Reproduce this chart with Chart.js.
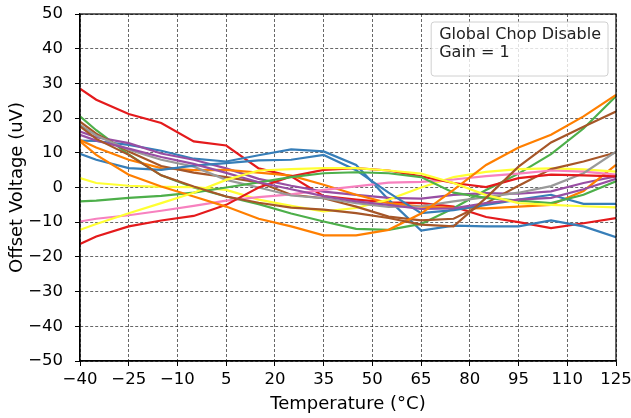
<!DOCTYPE html>
<html lang="en">
<head>
<meta charset="UTF-8">
<title>Offset Voltage vs Temperature</title>
<script src="https://cdn.jsdelivr.net/npm/chart.js"></script>
<style>
    body {
        margin: 0;
        background: #fff;
    }
    .wrap {
        width: 631px;
        height: 418px;
    }
</style>
</head>
<body>
<div class="wrap"><canvas id="grafico"></canvas></div>
<script>
    // temperatures (°C) where each unit was measured
    const temps = [-40, -35, -25, -15, -5, 5, 15, 25, 35, 45, 55, 65, 75, 85, 95, 105, 115, 125];

    // offset voltage (uV), one array per unit
    const redA    = [28.5, 25.3, 21.2, 18.6, 13.3, 12.1, 5.5, 3.2, -2.5, -3.5, -4.3, -4.5, -5.5, -8.5, -10, -11.7, -10.3, -8.8];
    const blueA   = [13.5, 13.4, 12.3, 10.6, 8.3, 7.5, 9.3, 11, 10.4, 6.5, -3.5, -12.4, -11, -11.2, -11.2, -9.5, -11.2, -14.3];
    const greenA  = [20.5, 16.5, 9.5, 3.5, 0, -2.6, -4.8, -7.5, -9.8, -11.9, -12.2, -10.5, -6, -0.7, 4, 9.6, 17, 26.3];
    const purpleA = [16.1, 14.5, 12.8, 9.8, 8, 5.5, 2.5, 0.5, -1.2, -2.1, -3, -3.2, -2.1, -1.6, -1.8, -1.1, 1.3, 3.2];
    const orangeA = [13.7, 11.5, 8, 5.6, 5, 5.1, 4.3, 3.4, 0.8, -2.1, -4.5, -5.5, -5.9, -6, -5.5, -5, -1, 6.5];
    const yellowA = [2.7, 1.3, 0.5, 0.2, 0.1, -0.7, -3.5, -5.3, -6.9, -5.9, -3.5, 0, 3, 4.5, 5.3, 5.5, 5.2, 4.6];
    const brownA  = [19, 15.5, 10.4, 6.2, 4.3, 3, 1.5, -2.1, -3.1, -5.5, -8.4, -9.5, -9, -4.5, 0.5, 5.3, 7.5, 10.1];
    const pink    = [-9.8, -9, -8, -6.7, -5.3, -3.8, -2.8, -2, -0.7, 0.3, 1.4, 1.6, 2.3, 3.3, 4, 4.9, 4.6, 3.7];
    const gray    = [18, 15, 10.9, 8, 6, 2.2, 0, -2.3, -3.1, -4.5, -5.6, -5.4, -4, -2.8, -1.5, 0.4, 4.1, 10.3];
    const redB    = [-16.3, -14.1, -11.2, -9.5, -8.2, -5, 0, 3.2, 5.1, 5.6, 4.9, 3.2, 1.3, 0.1, 2.7, 3.7, 3.5, 3.2];
    const blueB   = [9.7, 8, 5.6, 5.1, 6.3, 7, 7.8, 8, 9.4, 5, -1.5, -7.4, -6.5, -5, -3.5, -2.1, -4.7, -4.7];
    const greenB  = [-4, -3.8, -3, -2.4, -1.5, 0, 1.5, 3, 4.1, 4.4, 4.1, 3, -1.5, -3, -3.8, -4.5, -2.1, 1.8];
    const purpleB = [15.2, 13.5, 11.2, 8.8, 6.8, 4.2, 1.5, -0.5, -2.5, -4, -5, -6.2, -6, -4.5, -3.5, -3, -0.5, 2.5];
    const orangeB = [13.3, 9.4, 3.7, 0.3, -2.6, -5.5, -9, -11.2, -13.8, -13.8, -12.2, -7.5, -0.7, 6.5, 11.5, 15.2, 20.5, 26.7];
    const yellowB = [-12.2, -10.5, -7.4, -4.5, -1.5, 2.2, 4.9, 5.3, 5.6, 5.6, 4.9, 4, 1.3, -2.2, -4.5, -5, -5.4, -5.7];
    const brownB  = [17.6, 14, 9.4, 3.5, 0.3, -2.6, -4.4, -5.8, -6.4, -7.4, -8.8, -10.7, -11.2, -3, 6, 13, 17.5, 21.9];

    const series = [redA, blueA, greenA, purpleA, orangeA, yellowA, brownA, pink, gray,
                    redB, blueB, greenB, purpleB, orangeB, yellowB, brownB];
    const colores = ['#e41a1c', '#377eb8', '#4daf4a', '#984ea3', '#ff7f00', '#ffff33', '#a65628', '#f781bf', '#999999'];

    const notaTexto = ['Global Chop Disable', 'Gain = 1'];

    const menos = v => String(v).replace('-', '\u2212');

    // frame on all four sides + the note box in the corner
    const marcoNota = {
        id: 'marcoNota',
        afterDraw(chart) {
            const { ctx, chartArea: a } = chart;
            ctx.save();
            ctx.strokeStyle = '#000';
            ctx.lineWidth = 1.2;
            ctx.strokeRect(a.left, a.top, a.right - a.left, a.bottom - a.top);

            ctx.font = '16px "DejaVu Sans"';
            const w = Math.max(...notaTexto.map(t => ctx.measureText(t).width)) + 15;
            const h = 54;
            const x = a.right - 8 - w;
            const y = a.top + 8;
            ctx.beginPath();
            ctx.roundRect(x, y, w, h, 3);
            ctx.fillStyle = 'rgba(255,255,255,0.8)';
            ctx.fill();
            ctx.strokeStyle = '#d0d0d0';
            ctx.lineWidth = 1;
            ctx.stroke();
            ctx.fillStyle = '#222';
            ctx.textBaseline = 'middle';
            notaTexto.forEach((t, i) => ctx.fillText(t, x + 8, y + 13 + i * 18));
            ctx.restore();
        }
    };

    Chart.defaults.font.family = '"DejaVu Sans", sans-serif';
    Chart.defaults.color = '#000';

    const ejeComun = {
        grid: {
            color: 'rgba(0,0,0,0.75)',
            lineWidth: 0.8,
            tickLength: 5,
            tickColor: '#000',
            tickWidth: 1,
            tickBorderDash: []
        },
        border: { display: true, color: '#000', width: 1.2, dash: [3, 2] }
    };

    new Chart(document.getElementById('grafico'), {
        type: 'line',
        data: {
            datasets: series.map((vals, i) => ({
                data: temps.map((t, k) => ({ x: t, y: vals[k] })),
                borderColor: colores[i % colores.length],
                borderWidth: 2.2,
                pointRadius: 0,
                tension: 0,
                order: series.length - i
            }))
        },
        options: {
            responsive: true,
            maintainAspectRatio: false,
            animation: false,
            layout: { padding: { top: 14, right: 15, left: 0, bottom: 0 } },
            plugins: { legend: { display: false }, tooltip: { enabled: false } },
            scales: {
                x: {
                    ...ejeComun,
                    type: 'linear',
                    min: -40,
                    max: 125,
                    afterFit: s => { s.height = 57; s.paddingLeft = 0; s.paddingRight = 0; },
                    ticks: { stepSize: 15, padding: 4, font: { size: 16.5 }, callback: menos },
                    title: { display: true, text: 'Temperature (°C)', font: { size: 18 }, padding: { top: 0, bottom: 3 } }
                },
                y: {
                    ...ejeComun,
                    min: -50,
                    max: 50,
                    afterFit: s => { s.width = 80; s.paddingTop = 0; s.paddingBottom = 0; },
                    ticks: { stepSize: 10, padding: 12, font: { size: 16.5 }, callback: menos },
                    title: { display: true, text: 'Offset Voltage (uV)', font: { size: 18 }, padding: { top: 7, bottom: 0 } }
                }
            }
        },
        plugins: [marcoNota]
    });
</script>
</body>
</html>
